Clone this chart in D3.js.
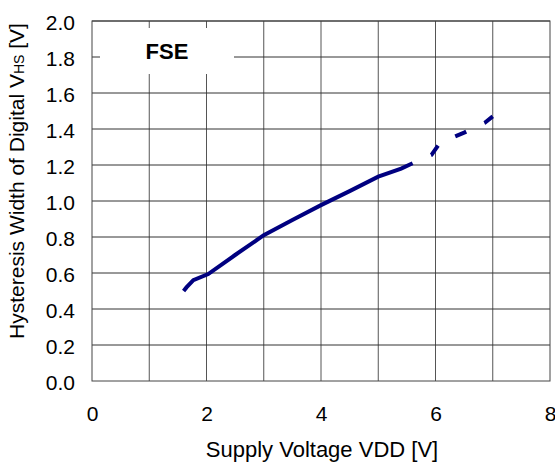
<!DOCTYPE html>
<html>
<head>
<meta charset="utf-8">
<script src="https://cdn.jsdelivr.net/npm/d3@7"></script>
<style>
body { margin: 0; background: #fff; }
text { font-family: "Liberation Sans", Arial, sans-serif; fill: #000; }
</style>
</head>
<body>
<div id="chart"></div>
<script>
// measured curve (solid part)
var vddSolid = [1.6, 1.65, 1.77, 2.03, 2.5, 3.0, 3.5, 4.0, 4.5, 5.0, 5.4, 5.6];
var vhsSolid = [0.50, 0.52, 0.56, 0.594, 0.70, 0.81, 0.895, 0.977, 1.055, 1.135, 1.18, 1.21];
// extrapolated part (dashed)
var vddDash = [5.6, 5.93, 6.08, 6.5, 6.86, 7.0];
var vhsDash = [1.21, 1.256, 1.324, 1.38, 1.435, 1.47];
var xTicks = [0, 2, 4, 6, 8];
var yTicks = [0, 0.2, 0.4, 0.6, 0.8, 1.0, 1.2, 1.4, 1.6, 1.8, 2.0];

var width = 555, height = 463;
var margin = {top: 21, right: 5, bottom: 82, left: 92};

var svg = d3.select("#chart").append("svg")
    .attr("width", width)
    .attr("height", height);

var x = d3.scaleLinear().domain([0, 8]).range([margin.left, width - margin.right]);
var y = d3.scaleLinear().domain([0, 2]).range([height - margin.bottom, margin.top]);

//grid
svg.selectAll(".vgrid")
    .data(d3.range(1, 8))
    .enter().append("line")
    .attr("x1", d => x(d)).attr("x2", d => x(d))
    .attr("y1", y(0)).attr("y2", y(2))
    .attr("stroke", "#555").attr("stroke-width", 1);

svg.selectAll(".hgrid")
    .data(yTicks.slice(1))
    .enter().append("line")
    .attr("x1", x(0)).attr("x2", x(8))
    .attr("y1", d => y(d)).attr("y2", d => y(d))
    .attr("stroke", "#333").attr("stroke-width", 1);

//frame
svg.append("rect")
    .attr("x", x(0)).attr("y", y(2))
    .attr("width", x(8) - x(0)).attr("height", y(0) - y(2))
    .attr("fill", "none").attr("stroke", "#444").attr("stroke-width", 1);

//label box
svg.append("rect")
    .attr("x", 100).attr("y", 28)
    .attr("width", 134).attr("height", 46)
    .attr("fill", "#fff");
svg.append("text")
    .attr("x", 167).attr("y", 59)
    .attr("text-anchor", "middle")
    .style("font-size", "22px").style("font-weight", "bold")
    .text("FSE");

//axes labels
var xAxis = d3.axisBottom(x).tickValues(xTicks).tickSize(0).tickPadding(25);
svg.append("g")
    .attr("transform", "translate(0," + y(0) + ")")
    .call(xAxis)
    .call(g => g.select(".domain").remove())
    .selectAll("text")
    .style("font-size", "21px")
    .style("font-family", "Liberation Sans, Arial, sans-serif");

var yAxis = d3.axisLeft(y).tickValues(yTicks).tickFormat(d3.format(".1f")).tickSize(0).tickPadding(17);
svg.append("g")
    .attr("transform", "translate(" + x(0) + ",0)")
    .call(yAxis)
    .call(g => g.select(".domain").remove())
    .selectAll("text")
    .attr("dy", "0.7em")
    .attr("y", -6)
    .style("font-size", "21px")
    .style("font-family", "Liberation Sans, Arial, sans-serif");

svg.append("text")
    .attr("x", 322).attr("y", 457)
    .attr("text-anchor", "middle")
    .style("font-size", "22px")
    .text("Supply Voltage VDD [V]");

var yt = svg.append("text")
    .attr("transform", "translate(24,181) rotate(-90)")
    .attr("text-anchor", "middle")
    .style("font-size", "21px");
yt.append("tspan").text("Hysteresis Width of Digital V");
yt.append("tspan").style("font-size", "14px").text("HS");
yt.append("tspan").text(" [V]");

//curves
var line = d3.line()
    .x(d => x(d[0]))
    .y(d => y(d[1]));

svg.append("path")
    .datum(d3.zip(vddSolid, vhsSolid))
    .attr("d", line)
    .attr("fill", "none")
    .attr("stroke", "#000080")
    .attr("stroke-width", 4);

svg.append("path")
    .datum(d3.zip(vddDash, vhsDash))
    .attr("d", line)
    .attr("fill", "none")
    .attr("stroke", "#000080")
    .attr("stroke-width", 4)
    .attr("stroke-dasharray", "12,20")
    .attr("stroke-dashoffset", 12);
</script>
</body>
</html>
